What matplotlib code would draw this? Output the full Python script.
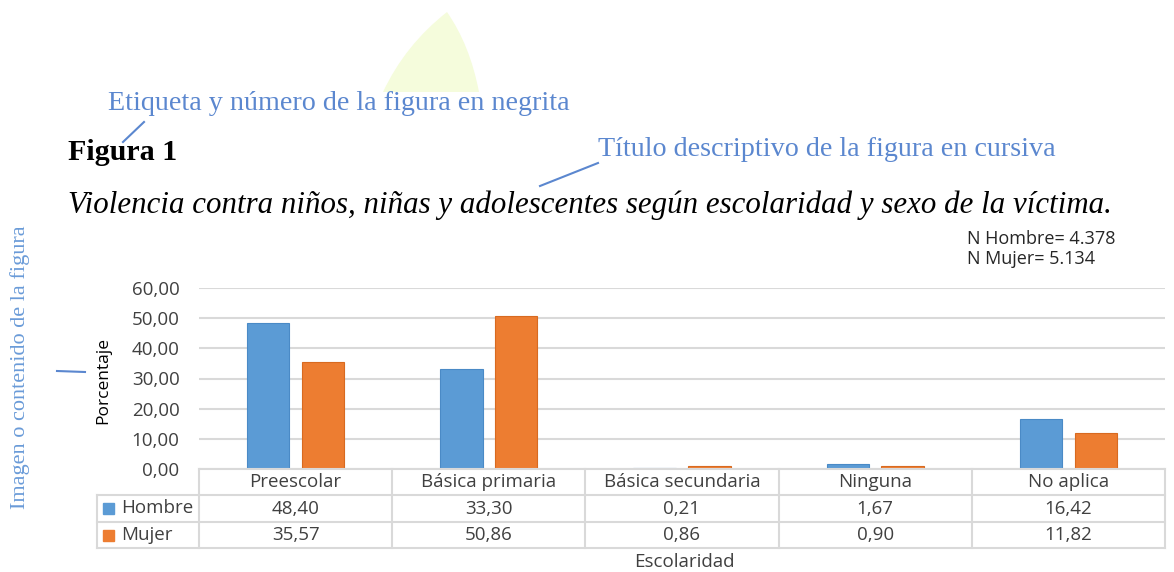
# bar chart with data table: violencia segun escolaridad y sexo
import numpy as np
import matplotlib.pyplot as plt
import matplotlib.transforms as mtransforms
from matplotlib.path import Path
from matplotlib.patches import PathPatch, Rectangle
from matplotlib.lines import Line2D

categories = ["Preescolar", "Básica primaria", "Básica secundaria", "Ninguna", "No aplica"]
hombre = [48.40, 33.30, 0.21, 1.67, 16.42]
mujer = [35.57, 50.86, 0.86, 0.90, 11.82]
series_names = ["Hombre", "Mujer"]
yticks = [0, 10, 20, 30, 40, 50, 60]

W, H = 1174, 572
BLUE = '#5B9BD5'
ORANGE = '#ED7D31'
NOTE = '#5B87CF'
GRID = '#D9D9D9'
TXT = '#404040'
CHART_FONT = ['Open Sans', 'DejaVu Sans']
SERIF = ['Liberation Serif', 'DejaVu Serif']
FS = 13.5

fig = plt.figure(figsize=(W / 100, H / 100), dpi=100)
# pixel coordinates (origin top-left) for the page decorations
T = mtransforms.Affine2D().scale(1 / W, -1 / H).translate(0, 1) + fig.transFigure

# axes placed in pixels: x 199..1165, y 288..469
ax = fig.add_axes([199 / W, 1 - 469 / H, (1165 - 199) / W, (469 - 288) / H])
x = np.arange(len(categories))
bw = 0.22
ax.bar(x - 0.142, hombre, bw, color=BLUE, edgecolor='#4A8AC6', linewidth=0.8, zorder=3)
ax.bar(x + 0.142, mujer, bw, color=ORANGE, edgecolor='#D86A20', linewidth=0.8, zorder=3)
ax.set_xlim(-0.5, len(categories) - 0.5)
ax.set_ylim(0, 60)
ax.set_yticks(yticks)
ax.set_yticklabels([f"{v:.2f}".replace('.', ',') for v in yticks],
                   fontsize=FS, color=TXT, family=CHART_FONT)
ax.tick_params(axis='y', length=0, pad=14)
ax.set_xticks([])
ax.grid(axis='y', color=GRID, linewidth=1.5, zorder=0)
for s in ax.spines.values():
    s.set_visible(False)

# data table below the plot (x in data units, y in axes fraction)
tr = ax.get_xaxis_transform()
ph = 181.0
rows = [0, -26 / ph, -53 / ph, -79 / ph]
left = -0.5 - 102 / 193.2
right = len(categories) - 0.5
kw = dict(transform=tr, color=GRID, linewidth=1.5, clip_on=False, zorder=4)
ax.add_line(Line2D([-0.5, right], [rows[0], rows[0]], **kw))
for r in rows[1:]:
    ax.add_line(Line2D([left, right], [r, r], **kw))
ax.add_line(Line2D([left, left], [rows[1], rows[3]], **kw))
for b in np.arange(len(categories) + 1) - 0.5:
    ax.add_line(Line2D([b, b], [rows[0], rows[3]], **kw))

tk = dict(transform=tr, ha='center', va='center', fontsize=FS, color=TXT,
          family=CHART_FONT, clip_on=False)
for i, c in enumerate(categories):
    ax.text(i, (rows[0] + rows[1]) / 2, c, **tk)
    ax.text(i, (rows[1] + rows[2]) / 2, f"{hombre[i]:.2f}".replace('.', ','), **tk)
    ax.text(i, (rows[2] + rows[3]) / 2, f"{mujer[i]:.2f}".replace('.', ','), **tk)

for j, (name, col) in enumerate(zip(series_names, [BLUE, ORANGE])):
    yc = 508 + j * 27
    fig.patches.append(Rectangle((103, yc + 5.5), 11, -11, transform=T, color=col))
    fig.text(121, yc, name, transform=T, ha='left', va='center', fontsize=FS,
             color=TXT, family=CHART_FONT)

fig.text(103, 380, "Porcentaje", transform=T, rotation=90, ha='center', va='center',
         fontsize=FS - 1, color='black', family=CHART_FONT)
fig.text(684, 562, "Escolaridad", transform=T, ha='center', va='center',
         fontsize=FS, color=TXT, family=CHART_FONT)
fig.text(967, 239, "N Hombre= 4.378", transform=T, ha='left', va='center',
         fontsize=FS - 0.5, color='#262626', family=CHART_FONT)
fig.text(967, 259, "N Mujer= 5.134", transform=T, ha='left', va='center',
         fontsize=FS - 0.5, color='#262626', family=CHART_FONT)

# page annotations
notes = []
notes.append((fig.text(108, 103, "Etiqueta y número de la figura en negrita", transform=T,
                       ha='left', va='center', color=NOTE, family=SERIF, fontsize=14), 464, 'w'))
notes.append((fig.text(68, 152, "Figura 1", transform=T, ha='left', va='center',
                       color='black', family=SERIF, weight='bold', fontsize=14), 110, 'w'))
notes.append((fig.text(598, 150, "Título descriptivo de la figura en cursiva", transform=T,
                       ha='left', va='center', color=NOTE, family=SERIF, fontsize=14), 460, 'w'))
notes.append((fig.text(68, 205, "Violencia contra niños, niñas y adolescentes según escolaridad y sexo de la víctima.",
                       transform=T, ha='left', va='center', color='black', family=SERIF,
                       style='italic', fontsize=14), 1044, 'w'))
notes.append((fig.text(20, 367, "Imagen o contenido de la figura", transform=T, rotation=90,
                       ha='center', va='center', color='#6A9BD8', family=SERIF, fontsize=14), 285, 'h'))
fig.canvas.draw()
rend = fig.canvas.get_renderer()
for t, target, d in notes:
    bb = t.get_window_extent(rend)
    size = bb.width if d == 'w' else bb.height
    t.set_fontsize(t.get_fontsize() * target / size)

for (x0, y0), (x1, y1) in [((123, 142), (144, 122)), ((540, 186), (598, 163)), ((57, 371), (85, 372))]:
    fig.add_artist(Line2D([x0, x1], [y0, y1], transform=T, color=NOTE, linewidth=1.5))

wedge = Path([(383, 92), (405, 45), (447, 12), (470, 45), (479, 92), (383, 92)],
             [Path.MOVETO, Path.CURVE3, Path.CURVE3, Path.CURVE3, Path.CURVE3, Path.CLOSEPOLY])
fig.patches.append(PathPatch(wedge, transform=T, facecolor='#F5FCDC', edgecolor='none', zorder=0))

fig.savefig('out.png', dpi=100)
